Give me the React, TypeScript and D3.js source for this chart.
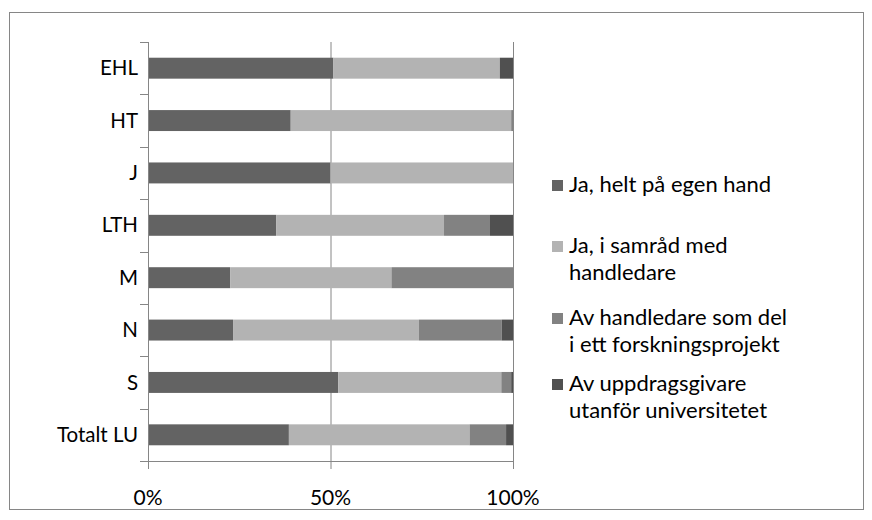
import React from 'react';
import * as d3 from 'd3';

const categories: string[] = ['EHL', 'HT', 'J', 'LTH', 'M', 'N', 'S', 'Totalt LU'];
const egenHand: number[] = [50.8, 39.1, 50.0, 35.1, 22.5, 23.3, 52.1, 38.6];
const samrad: number[] = [45.6, 60.4, 50.0, 46.0, 44.2, 50.9, 44.7, 49.5];
const projekt: number[] = [0, 0.5, 0, 12.6, 33.3, 22.7, 2.7, 10.0];
const uppdrag: number[] = [3.6, 0, 0, 6.3, 0, 3.1, 0.5, 1.9];
const tickValues: number[] = [0, 50, 100];
const seriesNames: string[][] = [
    ['Ja, helt på egen hand'],
    ['Ja, i samråd med', 'handledare'],
    ['Av handledare som del', 'i ett forskningsprojekt'],
    ['Av uppdragsgivare', 'utanför universitetet'],
];
const colors: string[] = ['#636363', '#b3b3b3', '#828282', '#505050'];

const W = 872;
const H = 520;
const font = 'Lato, Carlito, Calibri, sans-serif';
const axisColor = '#868686';

const App: React.FC = () => {
    const x = d3.scaleLinear().domain([0, 100]).range([148, 513]);
    const y = d3.scaleBand<string>().domain(categories).range([42, 461]).paddingInner(0.6).paddingOuter(0.3);
    const band = d3.scaleBand<string>().domain(categories).range([42, 461]);

    const rows = categories.map((c, i) => ({
        cat: c,
        s0: egenHand[i],
        s1: samrad[i],
        s2: projekt[i],
        s3: uppdrag[i],
    }));
    const keys = ['s0', 's1', 's2', 's3'];
    const stacked = d3.stack<any>().keys(keys)(rows);

    const boundaries = [...categories.map((c) => band(c) as number), 461];

    // legend: first baseline of each entry
    const legendBase = [192, 253, 325, 391];

    return (
        <div style={{ position: 'absolute', left: 0, top: 0 }}>
            <svg width={W} height={H} style={{ display: 'block', background: '#fff' }}>
                <rect x={9.5} y={12.5} width={854} height={497} fill="#fff" stroke={axisColor} strokeWidth={1} />
                {/* gridlines */}
                {tickValues.slice(1).map((t) => (
                    <line key={t} x1={x(t) + 0.5} x2={x(t) + 0.5} y1={42} y2={461} stroke={axisColor} strokeWidth={1} />
                ))}
                {/* bars */}
                {stacked.map((s, si) => (
                    <g key={si} fill={colors[si]}>
                        {s.map((d, di) => (
                            <rect
                                key={di}
                                x={x(d[0])}
                                y={y(categories[di])}
                                width={Math.max(0, x(d[1]) - x(d[0]))}
                                height={y.bandwidth()}
                            />
                        ))}
                    </g>
                ))}
                {/* y axis */}
                <line x1={148.5} x2={148.5} y1={42} y2={461} stroke={axisColor} />
                {boundaries.map((b, i) => (
                    <line key={i} x1={140} x2={148} y1={Math.round(b) + 0.5} y2={Math.round(b) + 0.5} stroke={axisColor} />
                ))}
                {categories.map((c) => (
                    <text
                        key={c}
                        x={138}
                        y={(band(c) as number) + band.bandwidth() / 2}
                        dy="0.35em"
                        textAnchor="end"
                        fontFamily={font}
                        fontSize={20.5}
                        fill="#000"
                    >
                        {c}
                    </text>
                ))}
                {/* x axis */}
                <line x1={140} x2={513} y1={461.5} y2={461.5} stroke={axisColor} />
                {tickValues.map((t) => (
                    <g key={t}>
                        <line x1={x(t) + 0.5} x2={x(t) + 0.5} y1={461} y2={469} stroke={axisColor} />
                        <text x={x(t)} y={505} textAnchor="middle" fontFamily={font} fontSize={21} fill="#000">
                            {d3.format('.0%')(t / 100)}
                        </text>
                    </g>
                ))}
                {/* legend */}
                {seriesNames.map((lines, i) => {
                    const base = legendBase[i];
                    return (
                        <g key={i}>
                            <rect x={552} y={base - 12} width={11} height={11} fill={colors[i]} />
                            <text x={569} y={base} fontFamily={font} fontSize={22} fill="#000">
                                {lines.map((l, li) => (
                                    <tspan key={li} x={569} dy={li === 0 ? 0 : 27}>
                                        {l}
                                    </tspan>
                                ))}
                            </text>
                        </g>
                    );
                })}
            </svg>
        </div>
    );
};

export default App;
